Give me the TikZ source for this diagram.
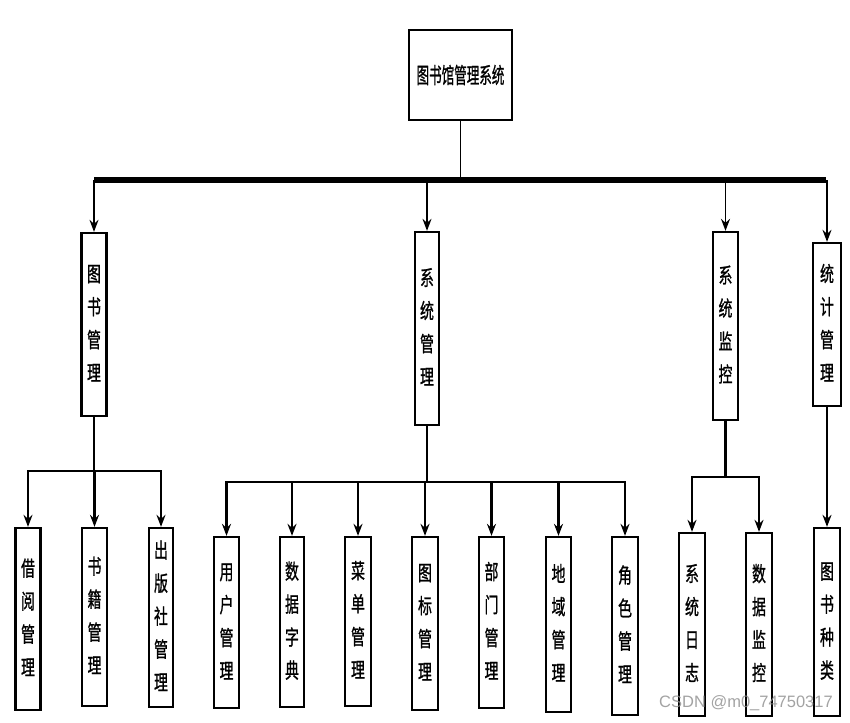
\documentclass[tikz,border=0pt]{standalone}
\usepackage{fontspec}
\newfontfamily\cjk[FakeBold=1.2]{Noto Sans CJK SC}
\newfontfamily\wmfont{Liberation Sans}
\usetikzlibrary{arrows.meta}
% vertical label: one character per row, slightly condensed
\newcommand\vlabel[1]{\scalebox{0.66}[1]{\begin{tabular}{@{}c@{}}#1\end{tabular}}}
\tikzset{
  box/.style={draw=black, line width=2.3pt, fill=white, inner sep=0pt, minimum width=25pt,
    font=\cjk\fontsize{21}{33}\selectfont},
  rootbox/.style={draw=black, line width=2.3pt, fill=white, inner sep=0pt,
    minimum width=103pt, minimum height=90pt, font=\cjk\fontsize{22}{24}\selectfont},
  link/.style={draw=black, line width=1.7pt},
  sublink/.style={draw=black, line width=2.2pt},
  tip/.style={-{Stealth[length=12pt,width=9pt,inset=4pt]}},
}
\begin{document}
\begin{tikzpicture}[x=1pt,y=-1pt]
\useasboundingbox (0,0) rectangle (850,722);

% root
\node[rootbox] (root) at (460.5,75) {\scalebox{0.57}[1]{图书馆管理系统}};

% first level
\node[box, minimum height=183pt] (tsgl) at (94,324.5)  {\vlabel{图\\书\\管\\理}};
\node[box, minimum height=193pt, minimum width=24pt] (xtgl) at (427,328.5) {\vlabel{系\\统\\管\\理}};
\node[box, minimum height=188pt] (xtjk) at (725.5,326) {\vlabel{系\\统\\监\\控}};
\node[box, minimum height=163pt, minimum width=28pt] (tjgl) at (827,324.5) {\vlabel{统\\计\\管\\理}};

% leaves
\node[box, minimum height=182pt] (jy)   at (28,619)    {\vlabel{借\\阅\\管\\理}};
\node[box, minimum height=178pt] (sj)   at (94.5,617)  {\vlabel{书\\籍\\管\\理}};
\node[box, minimum height=179pt, minimum width=24pt] (cbs)  at (161,617.5) {\vlabel{出\\版\\社\\管\\理}};
\node[box, minimum height=171pt] (yh)   at (226.5,622.5) {\vlabel{用\\户\\管\\理}};
\node[box, minimum height=170pt, minimum width=24pt] (sjzd) at (292,622)  {\vlabel{数\\据\\字\\典}};
\node[box, minimum height=169pt, minimum width=26pt] (cd)   at (358,621.5) {\vlabel{菜\\单\\管\\理}};
\node[box, minimum height=173pt, minimum width=26pt] (tb)   at (425,623.5) {\vlabel{图\\标\\管\\理}};
\node[box, minimum height=171pt] (bm)   at (491.5,622.5) {\vlabel{部\\门\\管\\理}};
\node[box, minimum height=175pt] (dy)   at (558.5,624.5) {\vlabel{地\\域\\管\\理}};
\node[box, minimum height=178pt, minimum width=26pt] (js)   at (625,626)  {\vlabel{角\\色\\管\\理}};
\node[box, minimum height=183pt, minimum width=26pt] (rz)   at (692,624.5) {\vlabel{系\\统\\日\\志}};
\node[box, minimum height=183pt, minimum width=26pt] (sjjk) at (759,624.5) {\vlabel{数\\据\\监\\控}};
\node[box, minimum height=188pt, minimum width=26pt] (tszl) at (827,622)  {\vlabel{图\\书\\种\\类}};

% main bus
\coordinate (busL) at (94,180);
\coordinate (busR) at (826,180);
\draw[line width=5.5pt] (busL) -- (busR);
\draw[link] (root.south) -- (root.south |- busL);
\foreach \n in {tsgl,xtgl,xtjk,tjgl}
  \draw[link,tip] (\n.north |- busL) -- (\n.north);

% book management branch
\coordinate (g1) at (94,471);
\draw[sublink] (tsgl.south) -- (g1);
\foreach \n in {jy,sj,cbs}
  \draw[sublink,tip] (g1) -| (\n.north);

% system management branch
\coordinate (g2) at (427,482);
\draw[sublink] (xtgl.south) -- (g2);
\foreach \n in {yh,sjzd,cd,tb,bm,dy,js}
  \draw[sublink,tip] (g2) -| (\n.north);

% system monitoring branch
\coordinate (g3) at (725.5,477);
\draw[sublink] (xtjk.south) -- (g3);
\foreach \n in {rz,sjjk}
  \draw[sublink,tip] (g3) -| (\n.north);

% statistics branch
\draw[sublink,tip] (tjgl.south) -- (tszl.north);

% watermark
\node[text=black!45, opacity=0.8, font=\wmfont\fontsize{16.5}{18}\selectfont, inner sep=0pt]
  (wm) at (746,703) {CSDN @m0\_74750317};
\end{tikzpicture}
\end{document}
